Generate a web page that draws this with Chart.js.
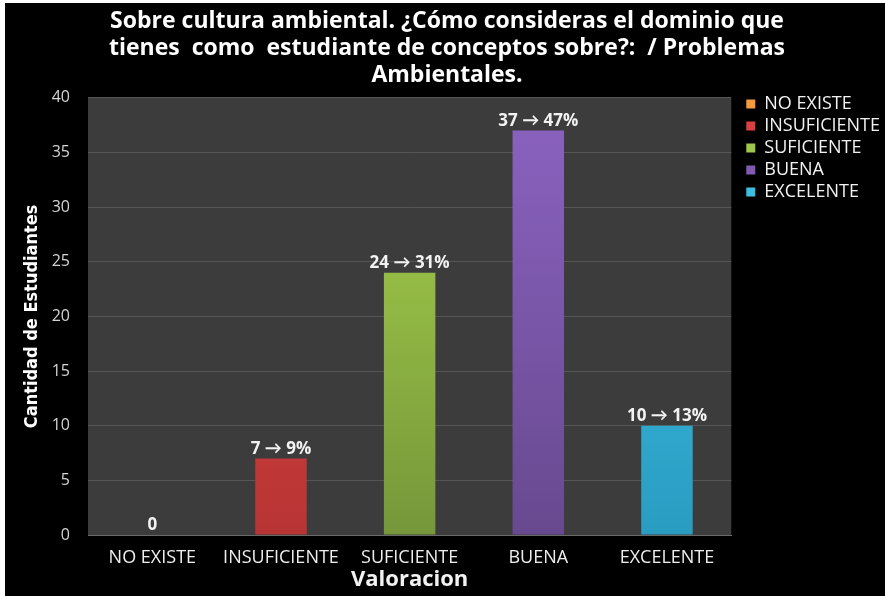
<!DOCTYPE html>
<html>
<head>
<meta charset="utf-8">
<script src="https://cdn.jsdelivr.net/npm/chart.js@4.4.1/dist/chart.umd.min.js"></script>
<style>
    html, body { margin: 0; padding: 0; background: #fff; }
    #wrap { position: absolute; left: 5px; top: 3px; width: 880px; height: 593px; background: #000; }
</style>
</head>
<body>
<div id="wrap"><canvas id="chart" width="880" height="593"></canvas></div>
<script>
// Datos del gráfico
const categories = ['NO EXISTE', 'INSUFICIENTE', 'SUFICIENTE', 'BUENA', 'EXCELENTE'];
const values = [0, 7, 24, 37, 10];
const percents = [null, 9, 31, 47, 13];

// Colores (parte superior / inferior de cada barra, y la leyenda)
const topColors = ['#f59a3c', '#e44a48', '#a9d44c', '#8b63c1', '#40c8ea'];
const bottomColors = ['#c8782a', '#b83434', '#76973a', '#68498f', '#2a9cc2'];
const legendColors = ['#f59a3c', '#d9403f', '#9cc84a', '#7f5aae', '#3dbde0'];

const baseFont = '"Open Sans", Lato, sans-serif';

// Fondo gris del área de trazado
const plotBackground = {
    id: 'plotBackground',
    beforeDraw(chart) {
        const { ctx, chartArea } = chart;
        ctx.save();
        ctx.fillStyle = '#3c3c3c';
        ctx.fillRect(chartArea.left, chartArea.top, chartArea.right - chartArea.left, chartArea.bottom - chartArea.top);
        ctx.restore();
    }
};

// Mover la leyenda junto al borde superior del área de trazado
const legendShift = {
    id: 'legendShift',
    afterLayout(chart) {
        const lg = chart.legend;
        if (!lg) return;
        lg.top += 88; lg.bottom += 88;
        lg.left += 11; lg.right += 11;
    }
};

// Etiquetas encima de cada barra: "7 → 9%"
const barLabels = {
    id: 'barLabels',
    afterDatasetsDraw(chart) {
        const { ctx } = chart;
        const meta = chart.getDatasetMeta(0);
        ctx.save();
        ctx.fillStyle = '#f2f2f2';
        ctx.font = 'bold 17px ' + baseFont;
        ctx.textAlign = 'center';
        ctx.textBaseline = 'bottom';
        meta.data.forEach((bar, i) => {
            const text = percents[i] === null ? String(values[i]) : values[i] + ' \u2192 ' + percents[i] + '%';
            ctx.fillText(text, bar.x, bar.y - 1);
        });
        ctx.restore();
    }
};

new Chart(document.getElementById('chart'), {
    type: 'bar',
    data: {
        labels: categories,
        datasets: [{
            data: values,
            backgroundColor(context) {
                const area = context.chart.chartArea;
                if (!area) return topColors[context.dataIndex];
                const g = context.chart.ctx.createLinearGradient(0, area.top, 0, area.bottom);
                g.addColorStop(0, topColors[context.dataIndex]);
                g.addColorStop(1, bottomColors[context.dataIndex]);
                return g;
            },
            barPercentage: 0.4,
            categoryPercentage: 1
        }]
    },
    options: {
        responsive: false,
        animation: false,
        layout: { padding: { left: 10, right: 6, top: 0, bottom: 0 } },
        plugins: {
            title: {
                display: true,
                text: ['Sobre cultura ambiental. ¿Cómo consideras el dominio que', 'tienes  como  estudiante de conceptos sobre?:  / Problemas', 'Ambientales.'],
                color: '#ffffff',
                font: { family: baseFont, size: 23, weight: 'bold', lineHeight: 1.17 },
                padding: { top: 5, bottom: 9 }
            },
            legend: {
                position: 'right',
                align: 'start',
                onClick: null,
                labels: {
                    color: '#f2f2f2',
                    font: { family: baseFont, size: 18 },
                    boxWidth: 9,
                    boxHeight: 9,
                    padding: 4,
                    generateLabels: () => categories.map((c, i) => ({
                        text: c,
                        fillStyle: legendColors[i],
                        strokeStyle: legendColors[i],
                        fontColor: '#f2f2f2',
                        lineWidth: 0,
                        hidden: false,
                        index: i
                    }))
                }
            },
            tooltip: { enabled: false }
        },
        scales: {
            x: {
                afterFit(scale) { scale.height = 61; },
                grid: { display: false, drawTicks: false },
                border: { color: '#6a6a6a' },
                ticks: { color: '#eeeeee', font: { family: baseFont, size: 18 }, padding: 12, maxRotation: 0 },
                title: {
                    display: true,
                    text: 'Valoracion',
                    color: '#f2f2f2',
                    font: { family: baseFont, size: 22, weight: 'bold' },
                    padding: { top: 0, bottom: 3 }
                }
            },
            y: {
                afterFit(scale) { scale.width = 73; },
                min: 0,
                max: 40,
                grid: { color: '#565656', drawTicks: false },
                border: { display: false },
                ticks: { stepSize: 5, color: '#d4d4d4', font: { family: baseFont, size: 16 }, padding: 18 },
                title: {
                    display: true,
                    text: 'Cantidad de Estudiantes',
                    color: '#ffffff',
                    font: { family: '"Liberation Sans Narrow", "DejaVu Sans Condensed", sans-serif', size: 18, weight: 'bold' },
                    padding: { top: 7, bottom: 0 }
                }
            }
        }
    },
    plugins: [plotBackground, legendShift, barLabels]
});
</script>
</body>
</html>
